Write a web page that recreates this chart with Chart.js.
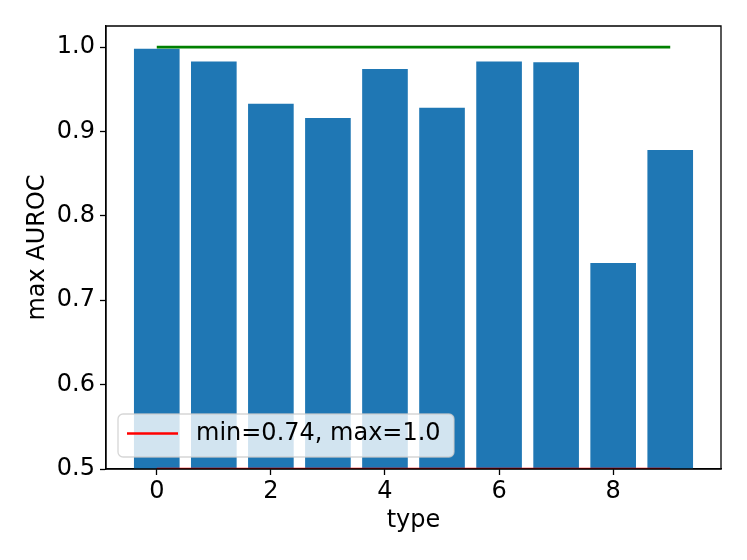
<!DOCTYPE html>
<html>
<head>
<meta charset="utf-8">
<script src="https://cdn.jsdelivr.net/npm/chart.js@4/dist/chart.umd.min.js"></script>
<style>
  html, body { margin: 0; padding: 0; background: #fff; }
  #wrap { width: 747px; height: 560px; }
</style>
</head>
<body>
<div id="wrap"><canvas id="c" width="747" height="560"></canvas></div>
<script>
const types = [0, 1, 2, 3, 4, 5, 6, 7, 8, 9];
const maxAuroc = [0.998, 0.983, 0.933, 0.916, 0.974, 0.928, 0.983, 0.982, 0.744, 0.878];
const maxLineY = 1.0;
const minLineY = 0.5;
const legendLabel = 'min=0.74, max=1.0';
const xTickValues = [0, 2, 4, 6, 8];
const yTickValues = [0.5, 0.6, 0.7, 0.8, 0.9, 1.0];

const FONT = 'DejaVu Sans';
const FS = 24;

const barData = types.map((t, i) => ({ x: t, y: maxAuroc[i] }));
const greenData = [{ x: types[0], y: maxLineY }, { x: types[types.length - 1], y: maxLineY }];
const redData = [{ x: types[0], y: minLineY }, { x: types[types.length - 1], y: minLineY }];

const framePlugin = {
  id: 'frame',
  afterDraw(chart) {
    const { ctx, chartArea: a } = chart;
    ctx.save();
    // legend box
    const bx = a.left + 12, by = a.bottom - 55, bw = 336, bh = 43;
    ctx.beginPath();
    ctx.roundRect(bx, by, bw, bh, 5);
    ctx.fillStyle = 'rgba(255,255,255,0.8)';
    ctx.fill();
    ctx.strokeStyle = 'rgba(204,204,204,0.8)';
    ctx.lineWidth = 1.3;
    ctx.stroke();
    ctx.beginPath();
    ctx.moveTo(bx + 9, by + 19.5);
    ctx.lineTo(bx + 60, by + 19.5);
    ctx.strokeStyle = '#ff0000';
    ctx.lineWidth = 2.4;
    ctx.stroke();
    ctx.fillStyle = '#000';
    ctx.font = FS + 'px "' + FONT + '"';
    ctx.textBaseline = 'middle';
    ctx.textAlign = 'left';
    ctx.fillText(legendLabel, bx + 78, by + 20);
    // spines
    ctx.beginPath();
    ctx.strokeStyle = '#000';
    ctx.lineWidth = 1.3;
    ctx.moveTo(a.left, a.bottom);
    ctx.lineTo(a.left, a.top);
    ctx.lineTo(a.right, a.top);
    ctx.lineTo(a.right, a.bottom);
    ctx.lineTo(a.left, a.bottom);
    ctx.stroke();
    ctx.restore();
  }
};

new Chart(document.getElementById('c'), {
  type: 'bar',
  data: {
    datasets: [
      {
        type: 'line', data: greenData, borderColor: '#008000', borderWidth: 2.6,
        pointRadius: 0, fill: false, order: 0
      },
      {
        type: 'line', data: redData, borderColor: '#ff0000', borderWidth: 2.6,
        pointRadius: 0, fill: false, order: 0
      },
      {
        type: 'bar', data: barData, backgroundColor: '#1f77b4', borderWidth: 0,
        barPercentage: 0.8, categoryPercentage: 1.0, order: 1
      }
    ]
  },
  options: {
    responsive: false,
    animation: false,
    devicePixelRatio: 1,
    layout: { padding: { left: 0, right: 26, top: 26, bottom: 0 } },
    plugins: { legend: { display: false }, tooltip: { enabled: false } },
    scales: {
      x: {
        type: 'linear', min: -0.89, max: 9.89, offset: false,
        afterBuildTicks(s) { s.ticks = xTickValues.map(v => ({ value: v })); },
        afterFit(s) { s.height = 91; },
        ticks: { color: '#000', font: { family: FONT, size: FS }, padding: 2, maxRotation: 0,
          callback: v => String(v) },
        grid: { offset: false, drawOnChartArea: false, drawTicks: true, tickLength: 6, color: '#000', tickWidth: 1.3 },
        border: { display: true, color: '#000', width: 1.3 },
        title: { display: true, text: 'type', color: '#000', font: { family: FONT, size: FS },
          padding: { top: 0, bottom: 25 } }
      },
      y: {
        type: 'linear', min: 0.5, max: 1.025,
        afterBuildTicks(s) { s.ticks = yTickValues.map(v => ({ value: v })); },
        afterFit(s) { s.width = 106; },
        ticks: { color: '#000', font: { family: FONT, size: FS }, padding: 5,
          callback: v => Number(v).toFixed(1) },
        grid: { drawOnChartArea: false, drawTicks: true, tickLength: 6, color: '#000', tickWidth: 1.3 },
        border: { display: true, color: '#000', width: 1.3 },
        title: { display: true, text: 'max AUROC', color: '#000', font: { family: FONT, size: FS },
          padding: { top: 23, bottom: 0 } }
      }
    }
  },
  plugins: [framePlugin]
});
</script>
</body>
</html>
